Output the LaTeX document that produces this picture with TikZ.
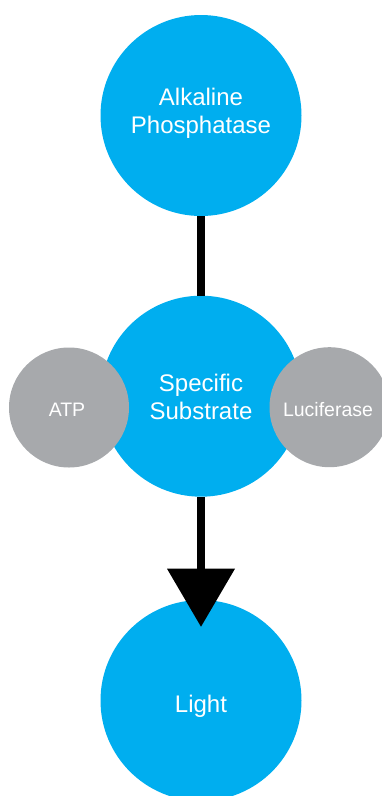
\documentclass[tikz,border=0pt]{standalone}
\usepackage{fontspec}
\setmainfont{Liberation Sans}
\usetikzlibrary{arrows.meta}
\definecolor{cyanblue}{HTML}{00AEEF}
\definecolor{greyc}{HTML}{A7A9AC}
\begin{document}
\begin{tikzpicture}[x=1pt,y=-1pt,
  bigc/.style={circle,fill=cyanblue,minimum size=201pt,inner sep=0pt},
  smallc/.style={circle,fill=greyc,minimum size=120pt,inner sep=0pt},
  bigt/.style={text=white,font=\fontsize{24}{27.8}\selectfont,align=center,inner sep=0pt,anchor=base},
  smallt/.style={text=white,font=\fontsize{19.5}{22}\selectfont,inner sep=0pt,anchor=base},
  conn/.style={line width=7.5pt}]
\useasboundingbox (0,0) rectangle (382,796);
\node[bigc] (ap) at (201,115.5) {};
\node[bigc] (ss) at (201,396.2) {};
\node[bigc] (li) at (201,700.5) {};
\node[smallc] (atp) at (69,407.5) {};
\node[smallc] (luc) at (329.5,407.2) {};
\coordinate (tip) at (201,626.7);
\draw[conn] (ap) -- (ss);
\draw[conn,-{Triangle[length=58pt,width=68pt,line width=0pt]}] (ss.south) -- (tip);
\node[bigt] (apt) at (201,133.3) {Alkaline\\Phosphatase};
\node[bigt] (sst) at (201,419.3) {Specific\\Substrate};
\node[bigt] (lit) at (201,712.7) {Light};
\node[smallt] (atpt) at (67,416.7) {ATP};
\node[smallt] (luct) at (328,416.7) {Luciferase};
\end{tikzpicture}
\end{document}
